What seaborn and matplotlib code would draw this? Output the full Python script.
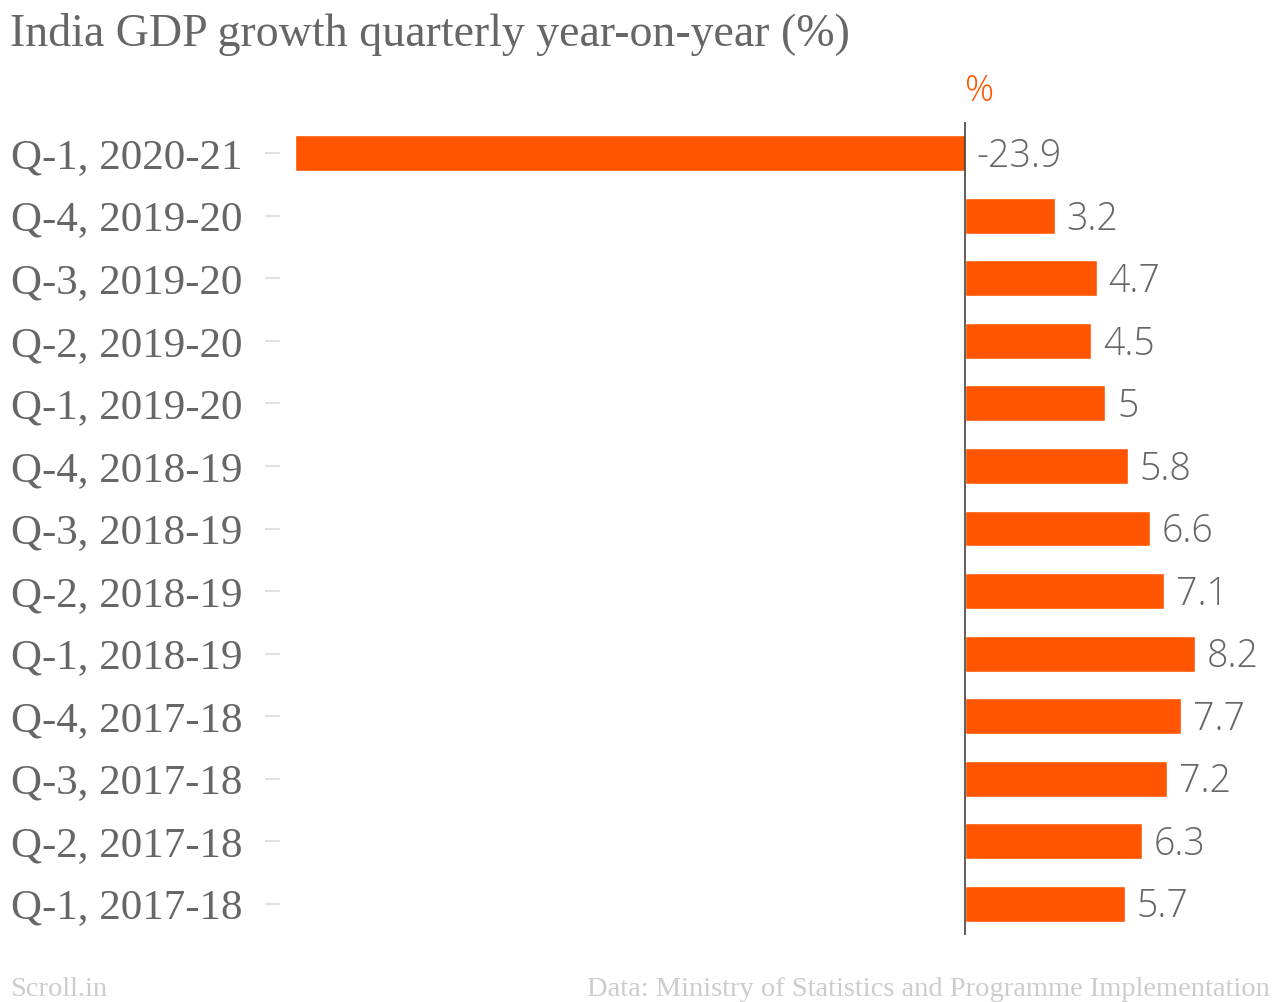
import numpy as np
import pandas as pd
import matplotlib
matplotlib.use("Agg")
import matplotlib.pyplot as plt
import seaborn as sns
sns.set_style("white")

# data, top to bottom
quarters = ['Q-1, 2020-21', 'Q-4, 2019-20', 'Q-3, 2019-20', 'Q-2, 2019-20',
            'Q-1, 2019-20', 'Q-4, 2018-19', 'Q-3, 2018-19', 'Q-2, 2018-19',
            'Q-1, 2018-19', 'Q-4, 2017-18', 'Q-3, 2017-18', 'Q-2, 2017-18',
            'Q-1, 2017-18']
growth = [-23.9, 3.2, 4.7, 4.5, 5, 5.8, 6.6, 7.1, 8.2, 7.7, 7.2, 6.3, 5.7]
value_labels = ['-23.9', '3.2', '4.7', '4.5', '5', '5.8', '6.6', '7.1',
                '8.2', '7.7', '7.2', '6.3', '5.7']

df = pd.DataFrame({'Quarter': quarters, 'Growth': growth})

orange = '#FF5500'
grey = '#666666'
serif = ['Liberation Serif', 'DejaVu Serif']
sans = ['Open Sans', 'DejaVu Sans']

W, H = 1280, 1002
fig = plt.figure(figsize=(W / 100, H / 100), dpi=100)
ax = fig.add_axes([280 / W, 1 - 935 / H, (1270 - 280) / W, (935 - 122) / H])

sns.barplot(data=df, x='Growth', y='Quarter', order=quarters, orient='h',
            color=orange, width=0.575, saturation=1, ax=ax)

ax.set_xlim(-24.44, 10.88)
ax.set_ylim(12.5, -0.5)
ax.axvline(0, color='#333333', lw=1.1, zorder=5)

for s in ax.spines.values():
    s.set_visible(False)
ax.set_xticks([])
ax.set_xlabel('')
ax.set_ylabel('')
ax.tick_params(axis='y', left=True, length=11, width=1.1, color='#d9d9d9',
               pad=16, labelsize=31, labelcolor=grey)
for t in ax.get_yticklabels():
    t.set_fontfamily(serif)

# value labels: right of the bar end, or right of the zero line for negatives
for i, (v, lab) in enumerate(zip(growth, value_labels)):
    x = max(v, 0)
    ax.annotate(lab, xy=(x, i), xytext=(8.5, -2.5), textcoords='offset points',
                ha='left', va='center', fontsize=27, color=grey,
                family=sans, fontweight='light')

# unit label above the zero line
ax.annotate('%', xy=(0, 1), xycoords=('data', 'axes fraction'),
            xytext=(0, 15), textcoords='offset points', ha='left',
            va='baseline', fontsize=26, color=orange, family=sans,
            fontweight='light')

fig.text(10 / W, 1 - 46 / H, 'India GDP growth quarterly year-on-year (%)',
         ha='left', va='baseline', fontsize=33, color=grey, family=serif)
fig.text(10 / W, 1 - 996 / H, 'Scroll.in', ha='left', va='baseline',
         fontsize=20.5, color='#cccccc', family=serif)
fig.text(1270 / W, 1 - 996 / H,
         'Data: Ministry of Statistics and Programme Implementation',
         ha='right', va='baseline', fontsize=20.5, color='#cccccc', family=serif)

fig.savefig('out.png', dpi=100)
